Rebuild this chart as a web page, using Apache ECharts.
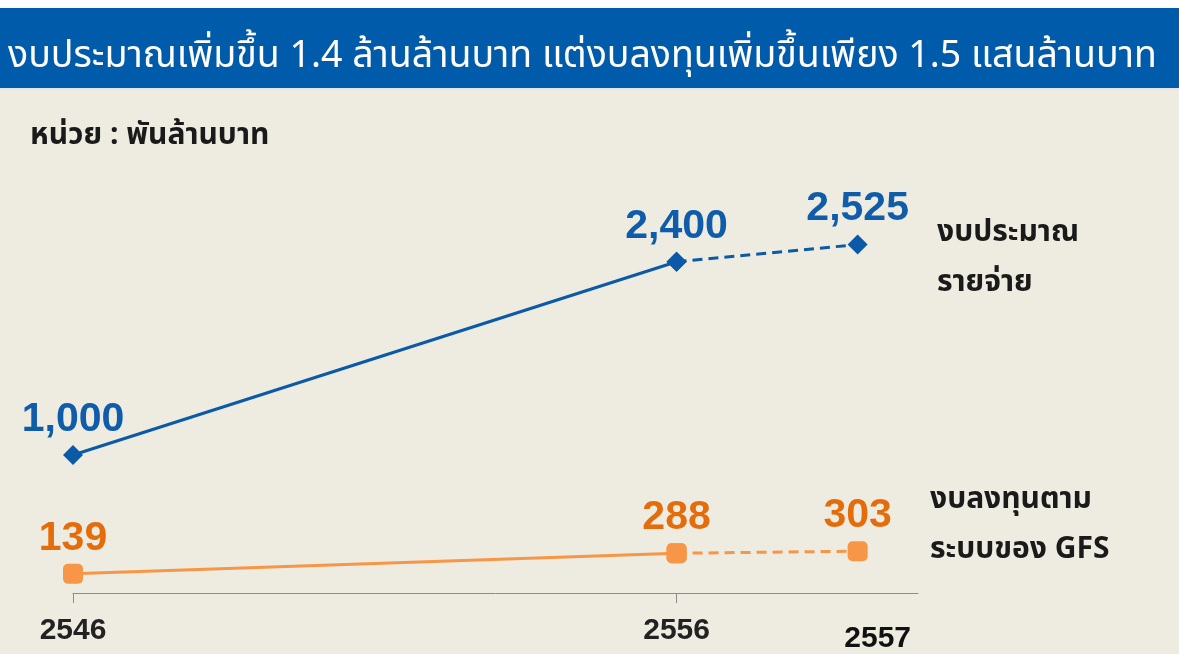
<!DOCTYPE html>
<html>
<head>
<meta charset="utf-8">
<title>งบประมาณ vs งบลงทุน</title>
<script src="https://cdn.jsdelivr.net/npm/echarts@6/dist/echarts.min.js"></script>
<style>
    html, body { margin: 0; padding: 0; background: #eeebe1; }
    #main { width: 1179px; height: 654px; }
</style>
</head>
<body>
<div id="main"></div>
<script>
    // ปีงบประมาณ
    var years = ['2546', '2556', '2557'];
    // งบประมาณรายจ่าย (พันล้านบาท)
    var budget = [1000, 2400, 2525];
    // งบลงทุนตามระบบของ GFS (พันล้านบาท)
    var invest = [139, 288, 303];

    // the original spaces the years unevenly, so each year sits on a slot of a 15-slot axis
    var slots = [0, 10, 13];
    var slotCount = 15;
    var cats = [];
    for (var i = 0; i < slotCount; i++) cats.push('');
    for (var i = 0; i < years.length; i++) cats[slots[i]] = years[i];

    // build one segment: points from..to, labels from labelFrom on
    function segment(values, from, to, labelFrom) {
        var out = [];
        for (var i = 0; i < slotCount; i++) out.push(null);
        for (var k = from; k <= to; k++) {
            out[slots[k]] = {
                value: values[k],
                label: {show: k >= labelFrom}
            };
        }
        return out;
    }

    var font = "'Liberation Sans', Arial, sans-serif";
    var thai = "Tahoma, 'Noto Sans Thai', 'Noto Sans', sans-serif";
    var blue = '#0b5aa7';
    var orange = '#f79646';

    function numLabel(color) {
        return {
            position: 'top',
            distance: 5,
            fontSize: 41,
            fontWeight: 'bold',
            fontFamily: font,
            color: color,
            formatter: function (p) {
                return p.value.toLocaleString('en-US');
            }
        };
    }

    function lineSeries(name, values, from, to, labelFrom, color, labelColor, symbol, dashed) {
        return {
            name: name,
            type: 'line',
            data: segment(values, from, to, labelFrom),
            connectNulls: true,
            symbol: symbol,
            symbolSize: 20,
            lineStyle: {color: color, width: 3, type: dashed ? [10, 6] : 'solid'},
            itemStyle: {color: color},
            label: numLabel(labelColor),
            animation: false
        };
    }

    var myChart = echarts.init(document.getElementById('main'));
    var options = {
        backgroundColor: '#eeebe1',
        grid: {
            left: 73,
            right: 261,
            top: 179,
            bottom: 61,
            outerBoundsMode: 'none'
        },
        xAxis: {
            type: 'category',
            data: cats,
            boundaryGap: false,
            axisLine: {lineStyle: {color: '#8c8c8c', width: 1}},
            axisTick: {
                show: true,
                length: 10,
                interval: function (idx, val) {
                    return val === years[0] || val === years[1];
                },
                lineStyle: {color: '#8c8c8c'}
            },
            axisLabel: {
                interval: function (idx, val) {
                    return val !== '';
                },
                margin: 23,
                fontSize: 30,
                fontWeight: 'bold',
                fontFamily: font,
                color: '#222',
                formatter: function (v) {
                    return v === years[2] ? '{late|' + v + '}' : v;
                },
                rich: {
                    late: {
                        padding: [8, 0, 0, 40],
                        fontSize: 30,
                        fontWeight: 'bold',
                        fontFamily: font,
                        color: '#111'
                    }
                }
            },
            splitLine: {show: false}
        },
        yAxis: {
            type: 'value',
            min: 0,
            max: 3000,
            show: false
        },
        series: [
            lineSeries('งบประมาณรายจ่าย', budget, 0, 1, 0, blue, '#0f5cab', 'diamond', false),
            lineSeries('งบประมาณรายจ่าย', budget, 1, 2, 2, blue, '#0f5cab', 'diamond', true),
            lineSeries('งบลงทุนตามระบบของ GFS', invest, 0, 1, 0, orange, '#e46c0a', 'roundRect', false),
            lineSeries('งบลงทุนตามระบบของ GFS', invest, 1, 2, 2, orange, '#e46c0a', 'roundRect', true)
        ],
        graphic: [
            {type: 'rect', shape: {x: 0, y: 0, width: 1179, height: 8}, style: {fill: '#ffffff'}},
            {type: 'rect', shape: {x: 0, y: 8, width: 1179, height: 80}, style: {fill: '#005baa'}},
            {type: 'rect', shape: {x: 0, y: 88, width: 1179, height: 2}, style: {fill: '#dfe6ee'}},
            {
                type: 'text', left: 8, top: 40,
                style: {
                    text: 'งบประมาณเพิ่มขึ้น 1.4 ล้านล้านบาท แต่งบลงทุนเพิ่มขึ้นเพียง 1.5 แสนล้านบาท',
                    fill: '#ffffff', fontSize: 37.5, fontFamily: thai
                }
            },
            {
                type: 'text', left: 30, top: 123,
                style: {text: 'หน่วย : พันล้านบาท', fill: '#1a1a1a', fontSize: 30, fontWeight: 'bold', fontFamily: thai}
            },
            {
                type: 'text', left: 937, top: 210,
                style: {text: 'งบประมาณ\nรายจ่าย', fill: '#1a1a1a', fontSize: 30, fontWeight: 'bold',
                    fontFamily: thai, lineHeight: 50}
            },
            {
                type: 'text', left: 930, top: 477,
                style: {text: 'งบลงทุนตาม\nระบบของ GFS', fill: '#1a1a1a', fontSize: 30, fontWeight: 'bold',
                    fontFamily: thai, lineHeight: 50}
            }
        ]
    };
    myChart.setOption(options);
</script>
</body>
</html>
